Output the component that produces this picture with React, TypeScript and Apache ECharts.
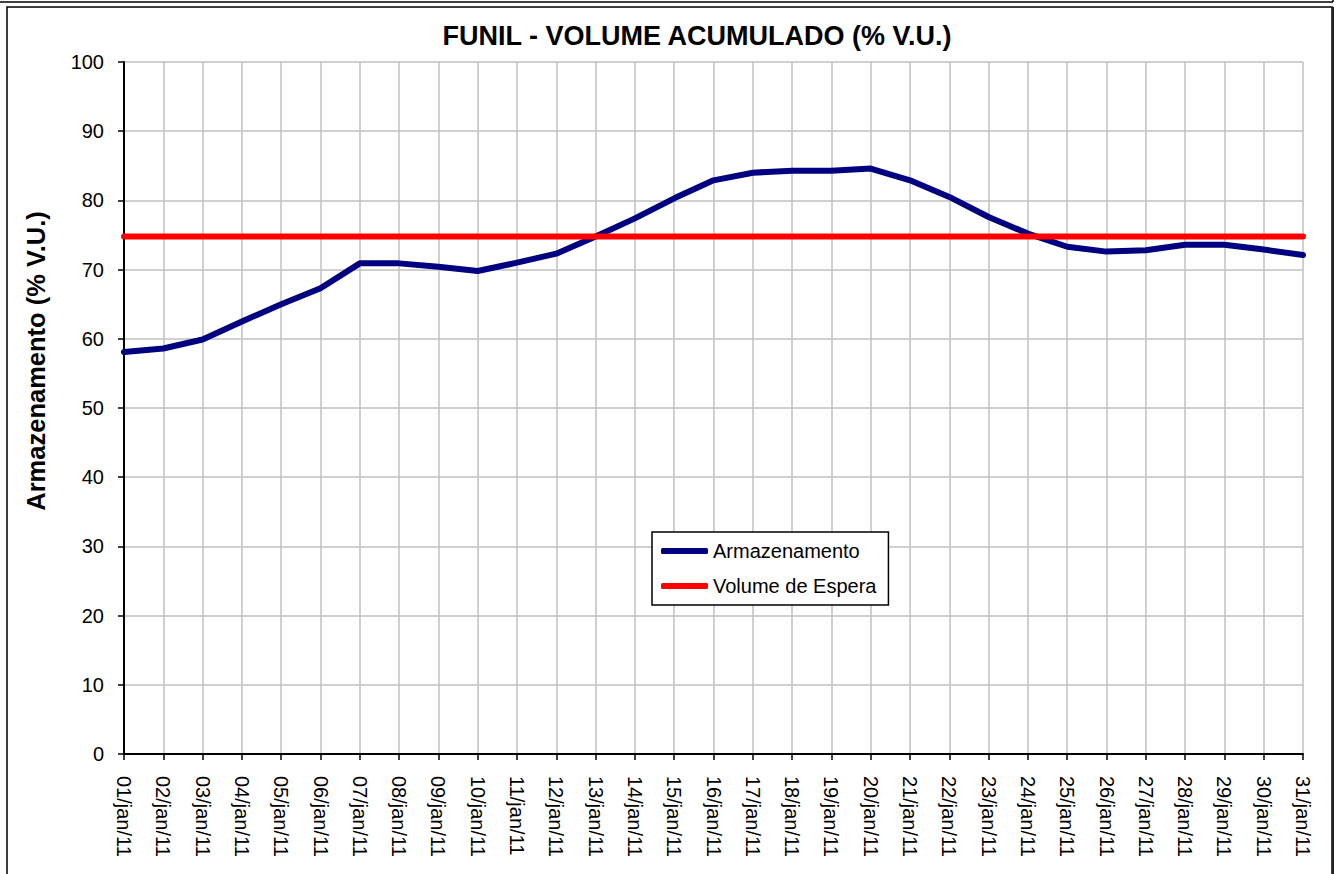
import React, { useEffect, useRef } from "react";
import * as echarts from "echarts";

const dates = [
  "01/jan/11", "02/jan/11", "03/jan/11", "04/jan/11", "05/jan/11", "06/jan/11", "07/jan/11",
  "08/jan/11", "09/jan/11", "10/jan/11", "11/jan/11", "12/jan/11", "13/jan/11", "14/jan/11",
  "15/jan/11", "16/jan/11", "17/jan/11", "18/jan/11", "19/jan/11", "20/jan/11", "21/jan/11",
  "22/jan/11", "23/jan/11", "24/jan/11", "25/jan/11", "26/jan/11", "27/jan/11", "28/jan/11",
  "29/jan/11", "30/jan/11", "31/jan/11",
];

const armazenamento = [
  58.1, 58.6, 59.9, 62.5, 65.0, 67.3, 70.9, 70.9, 70.4, 69.8, 71.0, 72.3, 74.8, 77.4,
  80.3, 82.9, 84.0, 84.3, 84.3, 84.6, 82.9, 80.5, 77.6, 75.2, 73.3, 72.6, 72.8, 73.6,
  73.6, 72.9, 72.1,
];

const volumeEspera = [
  74.8, 74.8, 74.8, 74.8, 74.8, 74.8, 74.8, 74.8, 74.8, 74.8, 74.8, 74.8, 74.8, 74.8,
  74.8, 74.8, 74.8, 74.8, 74.8, 74.8, 74.8, 74.8, 74.8, 74.8, 74.8, 74.8, 74.8, 74.8,
  74.8, 74.8, 74.8,
];

const title = "FUNIL - VOLUME ACUMULADO (% V.U.)";
const yTitle = "Armazenamento (% V.U.)";
const FONT = "Arial, 'Liberation Sans', sans-serif";

export default function App() {
  const ref = useRef<HTMLDivElement>(null);
  useEffect(() => {
    if (!ref.current) return;
    const chart = echarts.init(ref.current, null, { renderer: "svg" });
    chart.setOption({
      animation: false,
      backgroundColor: "#ffffff",
      textStyle: { fontFamily: FONT },
      grid: { left: 124, right: 35, top: 62, bottom: 120, containLabel: false },
      graphic: [
        {
          type: "rect",
          shape: { x: 7, y: 7, width: 1325, height: 890 },
          style: { fill: "none", stroke: "#000", lineWidth: 1.5 },
          silent: true,
        },
        {
          type: "line",
          shape: { x1: 1333, y1: 7, x2: 1333, y2: 874 },
          style: { stroke: "#222", lineWidth: 2 },
          silent: true,
        },
        {
          type: "line",
          shape: { x1: 0, y1: 2, x2: 1333, y2: 2 },
          style: { stroke: "#000", lineWidth: 1.5 },
          silent: true,
        },
        {
          type: "line",
          shape: { x1: 1333, y1: 0, x2: 1333, y2: 2 },
          style: { stroke: "#000", lineWidth: 1.5 },
          silent: true,
        },
        {
          type: "text",
          x: 697,
          y: 36,
          style: {
            text: title,
            font: `bold 27px ${FONT}`,
            fill: "#000",
            textAlign: "center",
            textVerticalAlign: "middle",
          },
        },
        {
          type: "text",
          x: 36,
          y: 361,
          rotation: Math.PI / 2,
          style: {
            text: yTitle,
            font: `bold 25.5px ${FONT}`,
            fill: "#000",
            textAlign: "center",
            textVerticalAlign: "middle",
          },
        },
      ],
      legend: {
        left: 652,
        top: 532,
        orient: "vertical",
        backgroundColor: "#fff",
        borderColor: "#000",
        borderWidth: 1.5,
        borderRadius: 0,
        padding: [9, 12, 9, 9],
        itemGap: 15,
        itemWidth: 47,
        itemHeight: 6,
        textStyle: { fontSize: 20, color: "#000", fontFamily: FONT, lineHeight: 20 },
        data: [
          { name: "Armazenamento", icon: "roundRect" },
          { name: "Volume de Espera", icon: "roundRect" },
        ],
      },
      xAxis: {
        type: "category",
        data: dates,
        boundaryGap: false,
        axisLine: { lineStyle: { color: "#000", width: 2 } },
        axisTick: { show: true, length: 6, lineStyle: { color: "#000", width: 1.5 }, interval: 0 },
        axisLabel: {
          rotate: -90,
          interval: 0,
          margin: 22,
          fontSize: 20,
          color: "#000",
          fontFamily: FONT,
        },
        splitLine: { show: true, interval: 0, lineStyle: { color: "#c0c0c0", width: 1.5 } },
      },
      yAxis: {
        type: "value",
        min: 0,
        max: 100,
        interval: 10,
        axisLine: { show: true, lineStyle: { color: "#000", width: 2 } },
        axisTick: { show: true, length: 6, lineStyle: { color: "#000", width: 1.5 } },
        axisLabel: { margin: 20, fontSize: 20, color: "#000", fontFamily: FONT },
        splitLine: { show: true, lineStyle: { color: "#c0c0c0", width: 1.5 } },
      },
      series: [
        {
          name: "Armazenamento",
          type: "line",
          data: armazenamento,
          showSymbol: false,
          symbol: "none",
          color: "#000080",
          lineStyle: { color: "#000080", width: 6, cap: "round", join: "round" },
          z: 3,
        },
        {
          name: "Volume de Espera",
          type: "line",
          data: volumeEspera,
          showSymbol: false,
          symbol: "none",
          color: "#ff0000",
          lineStyle: { color: "#ff0000", width: 6, cap: "round" },
          z: 4,
        },
      ],
    });
    return () => chart.dispose();
  }, []);
  return (
    <div
      ref={ref}
      style={{ position: "fixed", left: 0, top: 0, width: 1338, height: 874, background: "#fff" }}
    />
  );
}
